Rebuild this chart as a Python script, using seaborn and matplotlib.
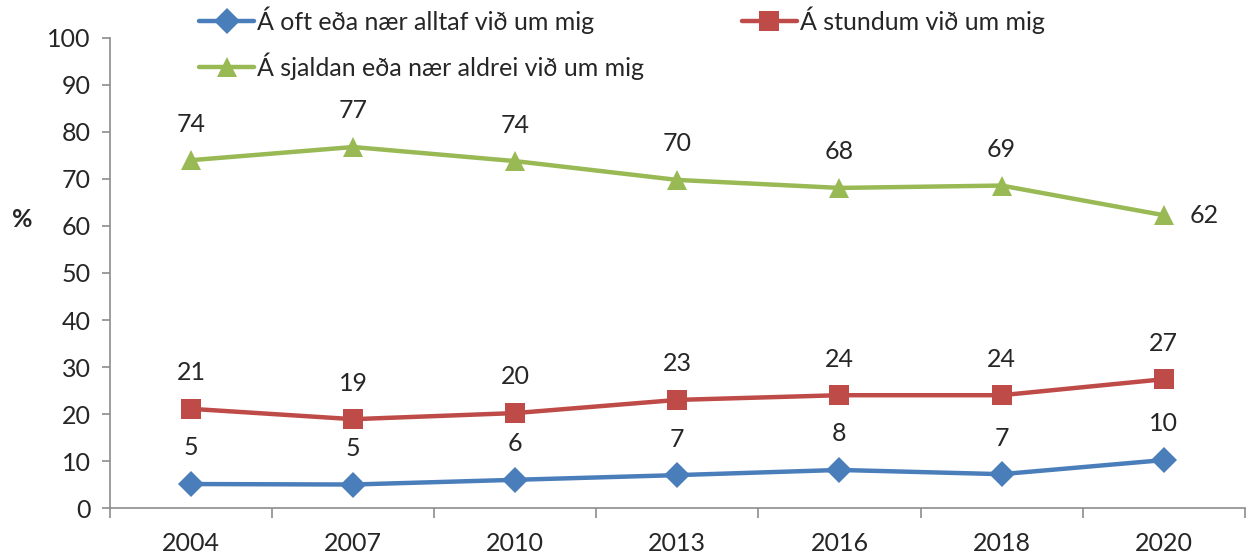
import pandas as pd
import matplotlib
matplotlib.use("Agg")
import matplotlib.pyplot as plt
import seaborn as sns

years = ["2004", "2007", "2010", "2013", "2016", "2018", "2020"]
oft = [5.1, 5.0, 6.0, 7.0, 8.1, 7.2, 10.2]
stundum = [21.1, 18.9, 20.2, 23.0, 24.0, 24.0, 27.4]
sjaldan = [74.0, 76.8, 73.8, 69.8, 68.1, 68.6, 62.3]

names = ["Á oft eða nær alltaf við um mig",
         "Á stundum við um mig",
         "Á sjaldan eða nær aldrei við um mig"]
colors = ["#4A7EBB", "#BE4B48", "#98B954"]
markers = ["D", "s", "^"]
msizes = [13, 14, 15]

df = pd.DataFrame({
    "Ár": years * 3,
    "Gildi": oft + stundum + sjaldan,
    "Hópur": [names[0]] * 7 + [names[1]] * 7 + [names[2]] * 7,
})

sns.set_style("white")
plt.rcParams["font.family"] = ["Lato", "DejaVu Sans"]
fs = 18

fig = plt.figure(figsize=(12.51, 5.56), dpi=100)
ax = fig.add_axes([0.0879, 0.0863, 0.9071, 0.8454])

for name, col, mk, ms in zip(names, colors, markers, msizes):
    sub = df[df["Hópur"] == name]
    sns.lineplot(data=sub, x="Ár", y="Gildi", color=col, marker=mk,
                 markersize=ms, markeredgewidth=0, linewidth=3.2,
                 label=name, ax=ax, sort=False)
    for i, v in enumerate(sub["Gildi"]):
        if name == names[2] and i == len(years) - 1:
            ax.annotate(f"{v:.0f}", (i, v), xytext=(29, 0),
                        textcoords="offset points", ha="center", va="center",
                        fontsize=fs)
        else:
            ax.annotate(f"{v:.0f}", (i, v), xytext=(0, 26),
                        textcoords="offset points", ha="center", va="center",
                        fontsize=fs)

ax.set_xlim(-0.5, 6.5)
ax.set_ylim(0, 100)
ax.set_yticks(range(0, 101, 10))
ax.set_xticks(range(len(years)))
ax.set_xticklabels(years)
ax.set_xticks([i - 0.5 for i in range(len(years) + 1)], minor=True)
ax.tick_params(axis="x", which="major", length=0, pad=17, labelsize=fs)
ax.tick_params(axis="x", which="minor", length=7, width=1.2, color="#8c8c8c",
               direction="out", bottom=True)
ax.tick_params(axis="y", length=6, width=1.2, color="#8c8c8c", direction="out",
               left=True, pad=8, labelsize=fs)
ax.set_xlabel("")
ax.set_ylabel("")
for s in ["top", "right"]:
    ax.spines[s].set_visible(False)
for s in ["left", "bottom"]:
    ax.spines[s].set_color("#8c8c8c")
    ax.spines[s].set_linewidth(1.2)

fig.text(0.0176, 0.606, "%", fontsize=fs, fontweight="bold", ha="center", va="center")

h, l = ax.get_legend_handles_labels()
order = [0, 2, 1]
ax.legend([h[i] for i in order], [l[i] for i in order], ncol=2,
          loc="upper left", bbox_to_anchor=(193 / 1251, 1.0), bbox_transform=fig.transFigure,
          frameon=False, fontsize=fs, handlelength=2.2, handletextpad=0.12,
          columnspacing=3.9, labelspacing=0.75, borderpad=0.25, borderaxespad=0)

fig.savefig("out.png", dpi=100)
